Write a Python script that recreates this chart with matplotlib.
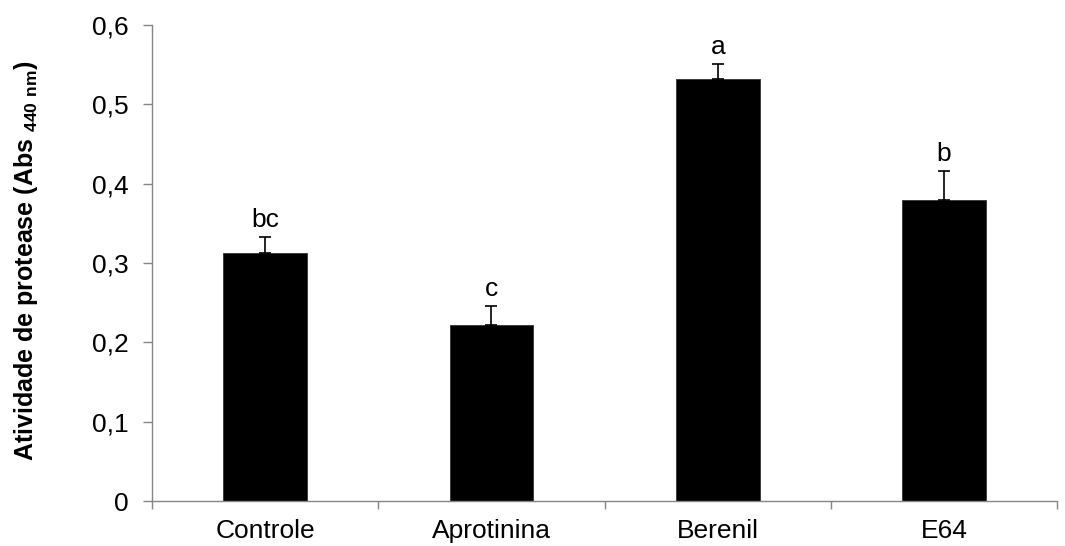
import matplotlib.pyplot as plt
import numpy as np
from matplotlib.ticker import FuncFormatter

plt.rcParams['font.family'] = ['Liberation Sans', 'DejaVu Sans']
plt.rcParams['mathtext.fontset'] = 'custom'
plt.rcParams['mathtext.rm'] = 'Liberation Sans'
plt.rcParams['mathtext.bf'] = 'Liberation Sans:bold'

groups = ['Controle', 'Aprotinina', 'Berenil', 'E64']
means = [0.313, 0.222, 0.532, 0.379]
errors = [0.020, 0.024, 0.019, 0.037]
letters = ['bc', 'c', 'a', 'b']

fig = plt.figure(figsize=(10.65, 5.46), dpi=100)
ax = fig.add_axes([0.1427, 0.0824, 0.85, 0.8716])

ind = np.arange(len(groups))
ax.bar(ind, means, 0.37, color='black', edgecolor='#333333', linewidth=0.6)
ax.errorbar(ind, means, yerr=[np.zeros(len(errors)), errors], fmt='none',
            ecolor='black', elinewidth=1.2, capsize=4.3, capthick=1.2)

# letras de significancia acima das barras
for i in range(len(groups)):
    ax.text(ind[i], means[i] + errors[i] + 0.006, letters[i],
            ha='center', va='bottom', fontsize=19)

ax.set_xlim(-0.5, len(groups) - 0.5)
ax.set_ylim(0, 0.6)
ax.set_yticks(np.arange(0, 0.61, 0.1))
ax.yaxis.set_major_formatter(FuncFormatter(
    lambda v, p: '0' if abs(v) < 1e-9 else f'{v:.1f}'.replace('.', ',')))

ax.set_xticks(ind)
ax.set_xticklabels(groups)
ax.set_xticks(np.arange(-0.5, len(groups), 1.0), minor=True)
ax.tick_params(axis='x', which='major', length=0, pad=13, labelsize=19)
ax.tick_params(axis='x', which='minor', length=6, color='#868686', width=1)
ax.tick_params(axis='y', length=6.5, color='#868686', width=1, labelsize=19, pad=10.5)

for s in ['top', 'right']:
    ax.spines[s].set_visible(False)
for s in ['left', 'bottom']:
    ax.spines[s].set_color('#868686')
    ax.spines[s].set_linewidth(1)

ax.set_ylabel(r'Atividade de protease (Abs $_{\mathbf{440\ nm}}$)',
              fontsize=18, fontweight='bold')
ax.yaxis.set_label_coords(-0.124, 0.505)

plt.savefig('out.png', dpi=100)
